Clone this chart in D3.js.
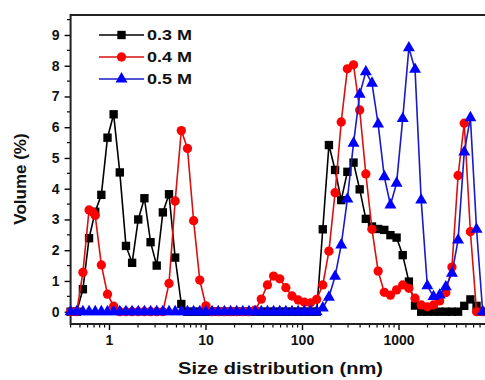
<!DOCTYPE html>
<html>
<head>
<meta charset="utf-8">
<script src="https://cdn.jsdelivr.net/npm/d3@7"></script>
<style>
  body { margin: 0; background: white; }
  svg { display: block; font-family: "Liberation Sans", Arial, sans-serif; font-weight: bold; }
</style>
</head>
<body>
<svg id="chart" width="485" height="380"></svg>
<script>
// size bins (nm), 70 log-spaced bins from the DLS instrument
const sizes = [0.4, 0.4632, 0.5365, 0.6213, 0.7195, 0.8332, 0.9649, 1.117, 1.294, 1.499,
  1.736, 2.01, 2.328, 2.696, 3.122, 3.615, 4.187, 4.849, 5.615, 6.503,
  7.531, 8.721, 10.1, 11.7, 13.54, 15.69, 18.17, 21.04, 24.36, 28.21,
  32.67, 37.84, 43.82, 50.75, 58.77, 68.06, 78.82, 91.28, 105.7, 122.4,
  141.8, 164.2, 190.1, 220.2, 255, 295.3, 342, 396.1, 458.7, 531.2,
  615.1, 712.4, 825, 955.4, 1106, 1281, 1484, 1718, 1990, 2305,
  2669, 3091, 3580, 4145, 4801, 5560, 6439, 7456, 8635, 10000]

const vol03 = [0, 0, 0.73, 2.39, 3.25, 3.80, 5.66, 6.42, 4.53, 2.14,
  1.59, 3.0, 3.69, 2.26, 1.50, 3.23, 3.82, 1.76, 0.25, 0,
  0, 0, 0, 0, 0, 0, 0, 0, 0, 0,
  0, 0, 0, 0, 0, 0, 0, 0, 0, 0,
  0, 2.68, 5.42, 4.61, 3.63, 4.55, 4.85, 3.98, 3.02, 2.77,
  2.69, 2.66, 2.49, 2.41, 1.84, 0.98, 0.20, 0, 0, 0,
  0, 0, 0, 0, 0.19, 0.40, 0.19, 0, 0, 0]

// 0.4 M has one extra reading between the 0.6213 and 0.7195 bins
const sizes04 = sizes.slice(0, 4).concat([0.678], sizes.slice(4))
const vol04 = [0, 0, 1.28, 3.31, 3.24, 3.13, 1.52, 0.57, 0.18, 0,
  0, 0, 0, 0, 0, 0, 0, 0.92, 3.60, 5.89,
  5.31, 2.96, 1.03, 0.19, 0, 0, 0, 0, 0, 0,
  0, 0.05, 0.41, 0.87, 1.16, 1.07, 0.78, 0.51, 0.38, 0.31,
  0.29, 0.40, 0.87, 1.97, 3.87, 6.17, 7.90, 8.03, 6.56, 4.48,
  2.68, 1.32, 0.63, 0.54, 0.71, 0.87, 0.76, 0.44, 0.22, 0.16,
  0.22, 0.35, 0.62, 1.45, 4.43, 6.13, 2.6, 0, 0, 0, 0]

const vol05 = [0, 0, 0, 0, 0, 0, 0, 0, 0, 0,
  0, 0, 0, 0, 0, 0, 0, 0, 0, 0,
  0, 0, 0, 0, 0, 0, 0, 0, 0, 0,
  0, 0, 0, 0, 0, 0, 0, 0, 0, 0,
  0, 0.12, 0.47, 1.15, 2.17, 3.66, 5.48, 7.07, 7.80, 7.43,
  6.10, 4.39, 3.47, 4.18, 6.28, 8.58, 7.88, 3.63, 0.84, 0.49,
  0.54, 0.81, 1.25, 2.33, 5.19, 6.31, 2.68, 0, 0, 0]

const seriesNames = ['0.3 M', '0.4 M', '0.5 M']
const yTicks = [0, 1, 2, 3, 4, 5, 6, 7, 8, 9]
const xTicks = [1, 10, 100, 1000]

const series = [
  { name: seriesNames[0], x: sizes, y: vol03, line: '#000000', fill: '#000000', shape: d3.symbolSquare, size: 70 },
  { name: seriesNames[1], x: sizes04, y: vol04, line: '#d81010', fill: '#ff0000', shape: d3.symbolCircle, size: 68 },
  { name: seriesNames[2], x: sizes, y: vol05, line: '#1a1ac8', fill: '#0000ff', shape: d3.symbolTriangle, size: 62 }
]

const svg = d3.select('#chart')

// plot box: left edge at 0.4 nm, right edge (10000 nm) falls just outside the picture
const x = d3.scaleLog().domain([0.4, 10000]).range([70.6, 495])
const y = d3.scaleLinear().domain([-0.4, 9.65]).range([324, 15])

// minor ticks
const xMinor = []
for (let dec = 0.1; dec < 10000; dec *= 10) {
  for (let k = 2; k <= 9; k++) {
    const v = dec * k
    if (v >= 0.4 && v <= 10000) xMinor.push(v)
  }
}
const yMinor = yTicks.map(d => d + 0.5)

svg.append('g')
  .selectAll('line')
  .data(xMinor)
  .enter()
  .append('line')
  .attr('x1', d => x(d)).attr('x2', d => x(d))
  .attr('y1', 324).attr('y2', 327.5)
  .attr('stroke', 'black').attr('stroke-width', 1.2)

svg.append('g')
  .selectAll('line')
  .data(yMinor)
  .enter()
  .append('line')
  .attr('x1', 70.6).attr('x2', 67)
  .attr('y1', d => y(d)).attr('y2', d => y(d))
  .attr('stroke', 'black').attr('stroke-width', 1.2)

// axes
const xAxis = d3.axisBottom(x)
  .tickValues(xTicks)
  .tickFormat(d3.format('d'))
  .tickSize(6)
  .tickPadding(5)

const yAxis = d3.axisLeft(y)
  .tickValues(yTicks)
  .tickSize(6)
  .tickPadding(5)

const gx = svg.append('g')
  .attr('transform', 'translate(0,324)')
  .call(xAxis)
gx.select('.domain').remove()
gx.selectAll('.tick line').attr('stroke-width', 1.4)
gx.selectAll('text')
  .attr('font-family', '"Liberation Sans", Arial, sans-serif')
  .attr('font-weight', 'bold')
  .attr('font-size', '14px')
  .attr('fill', '#111')

const gy = svg.append('g')
  .attr('transform', 'translate(70.6,0)')
  .call(yAxis)
gy.select('.domain').remove()
gy.selectAll('.tick line').attr('stroke-width', 1.4)
gy.selectAll('text')
  .attr('font-family', '"Liberation Sans", Arial, sans-serif')
  .attr('font-weight', 'bold')
  .attr('font-size', '14px')
  .attr('fill', '#111')

// frame
svg.append('rect')
  .attr('x', 70.6).attr('y', 15)
  .attr('width', 495 - 70.6).attr('height', 324 - 15)
  .attr('fill', 'none')
  .attr('stroke', '#222')
  .attr('stroke-width', 2)

// series
const line = d3.line()
  .x(d => x(d[0]))
  .y(d => y(d[1]))

series.forEach(s => {
  const pts = s.x.map((v, i) => [v, s.y[i]])

  svg.append('path')
    .datum(pts)
    .attr('d', line)
    .attr('fill', 'none')
    .attr('stroke', s.line)
    .attr('stroke-width', 1.6)

  svg.append('g')
    .selectAll('path')
    .data(pts)
    .enter()
    .append('path')
    .attr('transform', d => `translate(${x(d[0])},${y(d[1])})`)
    .attr('d', d3.symbol().type(s.shape).size(s.size))
    .attr('fill', s.fill)
})

// legend
const legend = svg.append('g')
  .selectAll('g')
  .data(series)
  .enter()
  .append('g')
  .attr('transform', (d, i) => `translate(0,${35 + i * 22})`)

legend.append('line')
  .attr('x1', 99).attr('x2', 144)
  .attr('stroke', d => d.line)
  .attr('stroke-width', 1.6)

legend.append('path')
  .attr('transform', 'translate(121.5,0)')
  .attr('d', d => d3.symbol().type(d.shape).size(d.size)())
  .attr('fill', d => d.fill)

legend.append('text')
  .attr('x', 147)
  .attr('dy', '0.36em')
  .attr('font-size', '15px')
  .attr('textLength', 45)
  .attr('lengthAdjust', 'spacingAndGlyphs')
  .attr('fill', '#111')
  .text(d => d.name)

// axis titles
svg.append('text')
  .attr('x', 178)
  .attr('y', 374)
  .attr('font-size', '17px')
  .attr('textLength', 205)
  .attr('lengthAdjust', 'spacingAndGlyphs')
  .attr('fill', '#111')
  .text('Size distribution (nm)')

svg.append('text')
  .attr('transform', 'translate(26,179) rotate(-90)')
  .attr('text-anchor', 'middle')
  .attr('font-size', '17px')
  .attr('fill', '#111')
  .text('Volume (%)')
</script>
</body>
</html>
